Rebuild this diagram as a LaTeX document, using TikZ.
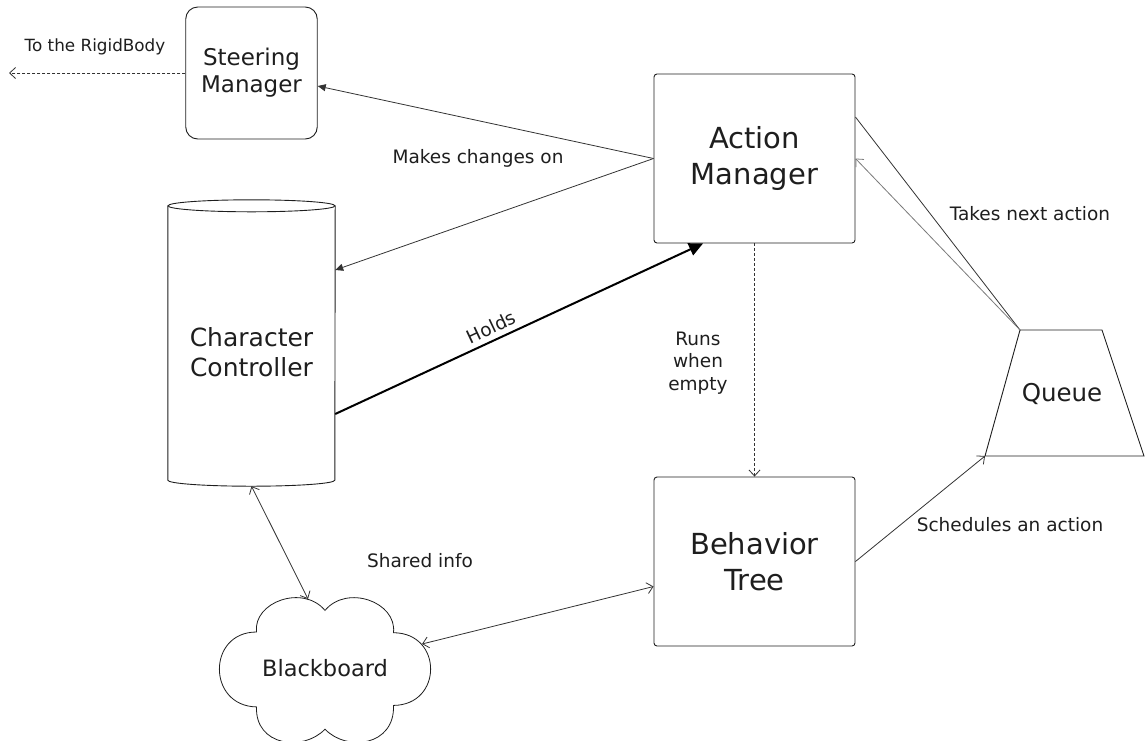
\documentclass[tikz,border=0pt]{standalone}
\usepackage{fontspec}
\setmainfont{DejaVu Sans}
\usetikzlibrary{arrows.meta}
\definecolor{ink}{HTML}{1E1E1E}
\definecolor{wire}{HTML}{333333}
\definecolor{softwire}{HTML}{7A7A7A}
\begin{document}
\begin{tikzpicture}[x=1pt,y=-1pt,
  box/.style={draw=ink, line width=0.9pt, rounded corners=3pt, inner sep=0pt,
    align=center, text=ink},
  lbl/.style={font=\fontsize{18.5}{22.5}\selectfont, text=ink, align=center, inner sep=0pt},
  wireline/.style={draw=wire, line width=0.8pt},
  openhead/.style={-{Straight Barb[length=6pt,width=11pt,line width=0.8pt]}},
  twoheads/.style={{Straight Barb[length=6pt,width=11pt,line width=0.8pt]}-{Straight Barb[length=6pt,width=11pt,line width=0.8pt]}},
  fillhead/.style={-{Triangle[length=8pt,width=7pt]}},
  bighead/.style={-{Triangle[length=14pt,width=13pt]}},
  dotline/.style={dash pattern=on 3pt off 2pt}
]
\useasboundingbox (0,0) rectangle (1147,740);

% ---- main blocks
\node[box, rounded corners=12pt, minimum width=131.5pt, minimum height=132pt,
      font=\fontsize{23}{27}\selectfont] (sm) at (251.5,73) {Steering\\Manager};
\node[box, minimum width=201pt, minimum height=169pt,
      font=\fontsize{29}{36}\selectfont] (am) at (754.5,158.5) {Action\\Manager};
\node[box, minimum width=201pt, minimum height=169pt,
      font=\fontsize{29}{36}\selectfont] (bt) at (754.5,561.5) {Behavior\\Tree};

% ---- character controller (cylinder)
\node[minimum width=167pt, minimum height=286pt, inner sep=0pt] (cc) at (251.5,343) {};
\draw[draw=ink, line width=0.9pt]
  ([yshift=-6pt]cc.north west) -- ([yshift=6pt]cc.south west)
  arc[start angle=180, end angle=360, x radius=83.5pt, y radius=6pt]
  -- ([yshift=-6pt]cc.north east);
\draw[draw=ink, line width=0.9pt] ([yshift=-6pt]cc.north) ellipse [x radius=83.5pt, y radius=6pt];
\node[font=\fontsize{25}{30}\selectfont, text=ink, align=center, inner sep=0pt] (cct) at (251.5,352) {Character\\Controller};

% ---- queue (trapezoid)
\node[font=\fontsize{24.5}{29}\selectfont, text=ink, inner sep=0pt] (q) at (1062,394) {Queue};
\coordinate (qtl) at (1020,330);
\coordinate (qtr) at (1102,330);
\coordinate (qbr) at (1144,456);
\coordinate (qbl) at (985,456);
\draw[draw=ink, line width=0.9pt] (qtl) -- (qtr) -- (qbr) -- (qbl) -- cycle;

% ---- blackboard (cloud)
\node[font=\fontsize{22.5}{27}\selectfont, text=ink, inner sep=0pt] (bb) at (325,668) {Blackboard};
\begin{scope}[shift={(bb.center)}]
  \draw[draw=ink, line width=0.8pt]
    (-68.5,-36) .. controls (-72,-66) and (-22,-84) .. (0,-57.6)
    .. controls (22,-84) and (72,-66) .. (68.5,-35.3)
    .. controls (118,-35) and (118,37) .. (68.5,37.4)
    .. controls (70,78) and (22,84) .. (0,61.2)
    .. controls (-22,84) and (-70,78) .. (-68.5,38.9)
    .. controls (-118,38) and (-118,-36) .. cycle;
  \coordinate (bbtop) at (-17,-69);
  \coordinate (bbright) at (97,-24);
\end{scope}

% ---- free end of the steering output
\coordinate (rb) at (9,73);

% ---- connectors
\draw[wireline, openhead, dotline] (sm.west) -- (rb);
\draw[wireline, fillhead] (am.west) -- ([yshift=-13pt]sm.east);
\draw[wireline, fillhead] (am.west) -- ([yshift=73pt]cc.east);
\draw[draw=black, line width=2pt, bighead] ([yshift=-71pt]cc.east) -- ([xshift=-51.5pt]am.south);
\draw[wireline, openhead, dotline] (am.south) -- (bt.north);
\draw[wireline] (qtl) -- ([yshift=41.5pt]am.east);
\draw[draw=softwire, line width=0.8pt, openhead] (qtl) -- (am.east);
\draw[wireline, openhead] (bt.east) -- (qbl);
\draw[wireline, twoheads] (cc.south) -- (bbtop);
\draw[wireline, twoheads] (bbright) -- ([yshift=-25pt]bt.west);

% ---- connector labels
\node[lbl, font=\fontsize{16.8}{20}\selectfont] (lrb) at (95,47) {To the RigidBody};
\node[lbl] (lmc) at (478,158) {Makes changes on};
\node[lbl, rotate=25.2] (lho) at (491,327) {Holds};
\node[lbl] (lru) at (698,363) {Runs\\when\\empty};
\node[lbl] (ltn) at (1030,214) {Takes next action};
\node[lbl] (lsa) at (1010,525) {Schedules an action};
\node[lbl] (lsi) at (420,561) {Shared info};
\end{tikzpicture}
\end{document}
